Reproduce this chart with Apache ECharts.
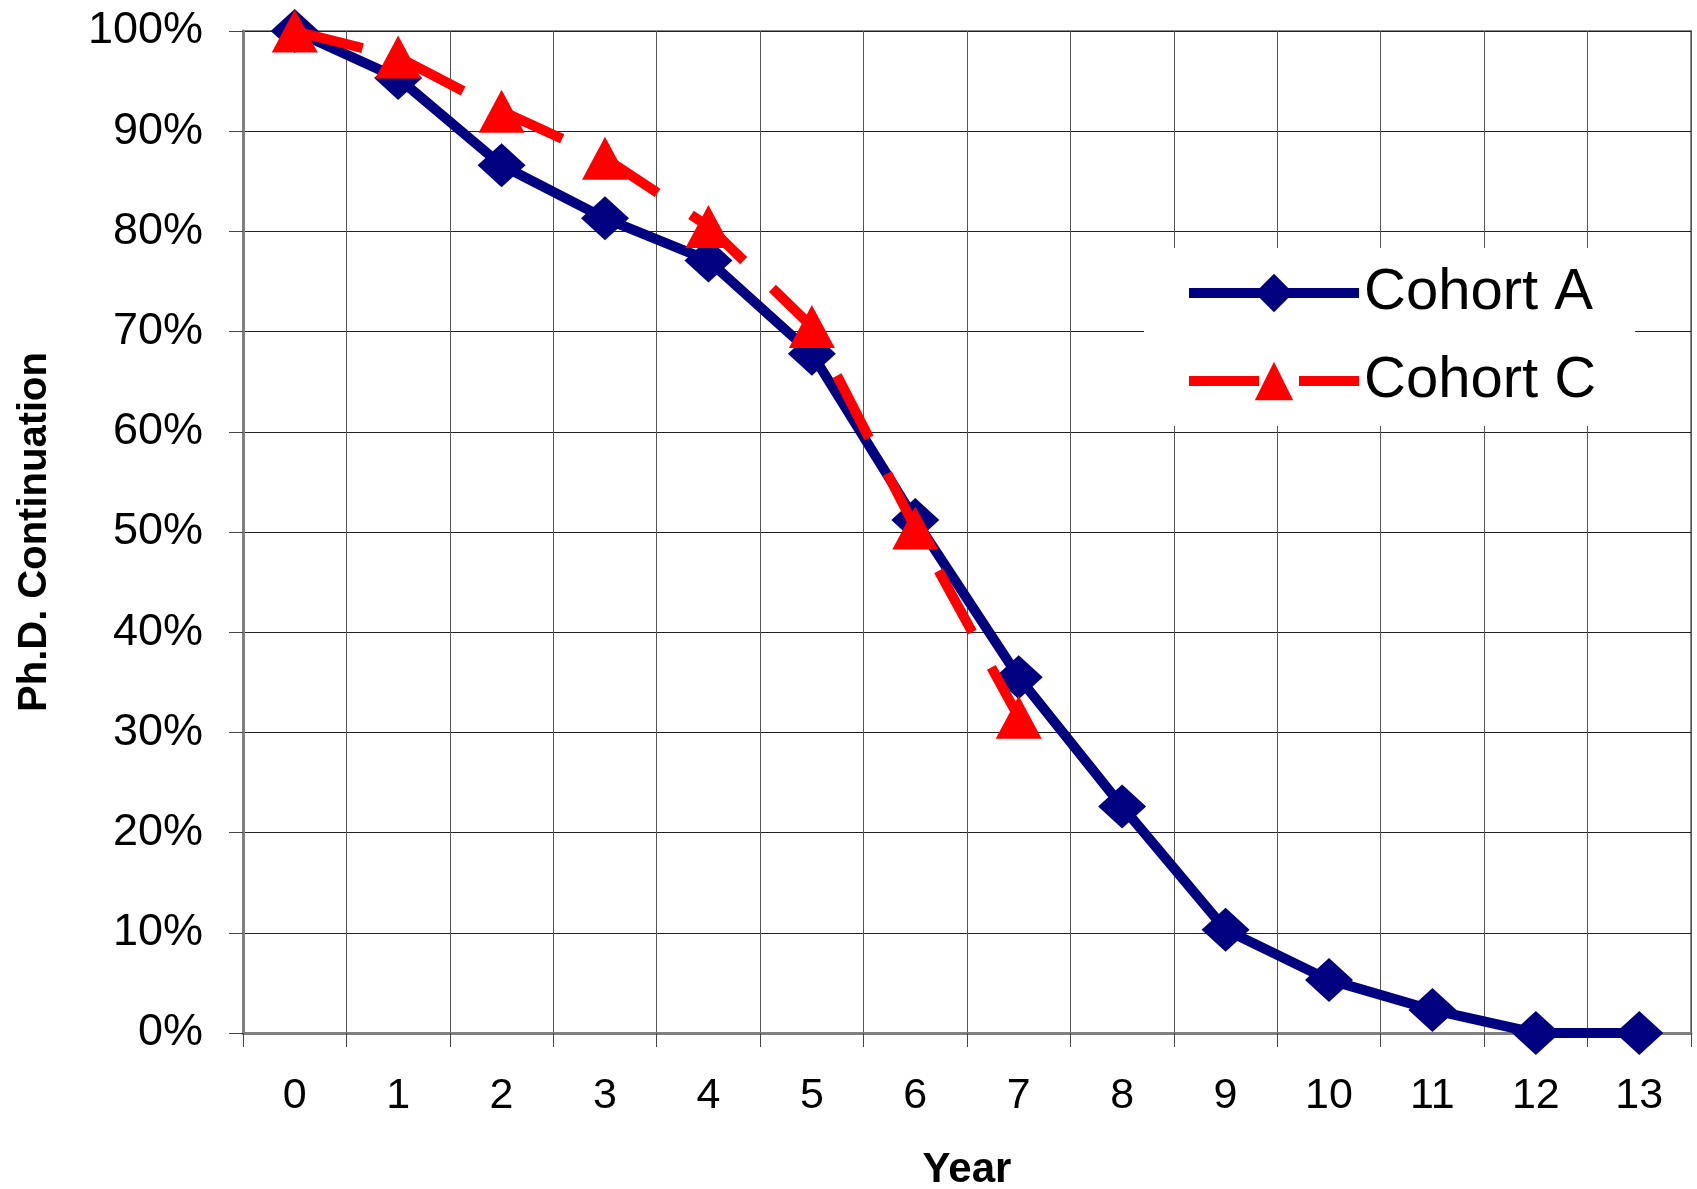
<!DOCTYPE html>
<html>
<head>
<meta charset="utf-8">
<script src="https://cdn.jsdelivr.net/npm/echarts@6/dist/echarts.min.js"></script>
<style>
  html, body { margin: 0; padding: 0; background: #fff; }
  #chart { width: 1697px; height: 1189px; }
</style>
</head>
<body>
<div id="chart"></div>
<script>
const years = ['0','1','2','3','4','5','6','7','8','9','10','11','12','13'];
const cohortA = [100, 95.3, 86.6, 81.3, 77.1, 67.8, 51.2, 35.5, 22.6, 10.3, 5.3, 2.3, 0, 0];
const cohortC = [100, 97.4, 92.0, 87.3, 80.5, 70.5, 50.4, 31.5];
const yTicks = { min: 0, max: 100, interval: 10 };

const FONT = '"Liberation Sans", Arial, sans-serif';
const chart = echarts.init(document.getElementById('chart'), null, { renderer: 'canvas' });

chart.setOption({
  animation: false,
  backgroundColor: '#ffffff',
  grid: {
    left: 243, right: 6, top: 31, bottom: 156,
    containLabel: false,
    outerBoundsMode: 'none',
    show: true, borderColor: '#888888', borderWidth: 2
  },
  legend: {
    orient: 'vertical',
    left: 1144, top: 248,
    backgroundColor: '#ffffff',
    padding: [16, 39, 16, 40],
    itemWidth: 170, itemHeight: 48,
    itemGap: 30,
    lineStyle: { width: 10 },
    textStyle: { fontFamily: FONT, fontSize: 58, color: '#000' },
    data: ['Cohort A', 'Cohort C']
  },
  xAxis: {
    type: 'category',
    data: years,
    boundaryGap: true,
    name: 'Year',
    nameLocation: 'middle',
    nameGap: 116,
    nameTextStyle: { fontFamily: FONT, fontSize: 42, fontWeight: 'bold', color: '#000' },
    axisLine: { lineStyle: { color: '#808080', width: 3 } },
    axisTick: { show: true, alignWithLabel: false, length: 14, lineStyle: { color: '#444', width: 1 } },
    axisLabel: { fontFamily: FONT, fontSize: 43, color: '#000', margin: 42 },
    splitLine: { show: true, lineStyle: { color: '#555', width: 1 } }
  },
  yAxis: {
    type: 'value',
    min: yTicks.min, max: yTicks.max, interval: yTicks.interval,
    name: 'Ph.D. Continuation',
    nameLocation: 'middle',
    nameGap: 188,
    nameRotate: 90,
    nameTextStyle: { fontFamily: FONT, fontSize: 40, fontWeight: 'bold', color: '#000' },
    axisLine: { show: true, lineStyle: { color: '#808080', width: 3 } },
    axisTick: { show: true, length: 14, lineStyle: { color: '#444', width: 1 } },
    axisLabel: { fontFamily: FONT, fontSize: 45, color: '#000', margin: 40, formatter: '{value}%' },
    splitLine: { show: true, lineStyle: { color: '#222', width: 1 } }
  },
  series: [
    {
      name: 'Cohort A',
      type: 'line',
      data: cohortA,
      symbol: 'diamond',
      symbolSize: [48, 44],
      lineStyle: { color: '#000080', width: 10 },
      itemStyle: { color: '#000080' },
      z: 3
    },
    {
      name: 'Cohort C',
      type: 'line',
      data: cohortC,
      symbol: 'triangle',
      symbolSize: [46, 43],
      lineStyle: { color: '#ff0000', width: 10, type: [70, 40] },
      itemStyle: { color: '#ff0000' },
      z: 4
    }
  ]
});
</script>
</body>
</html>
